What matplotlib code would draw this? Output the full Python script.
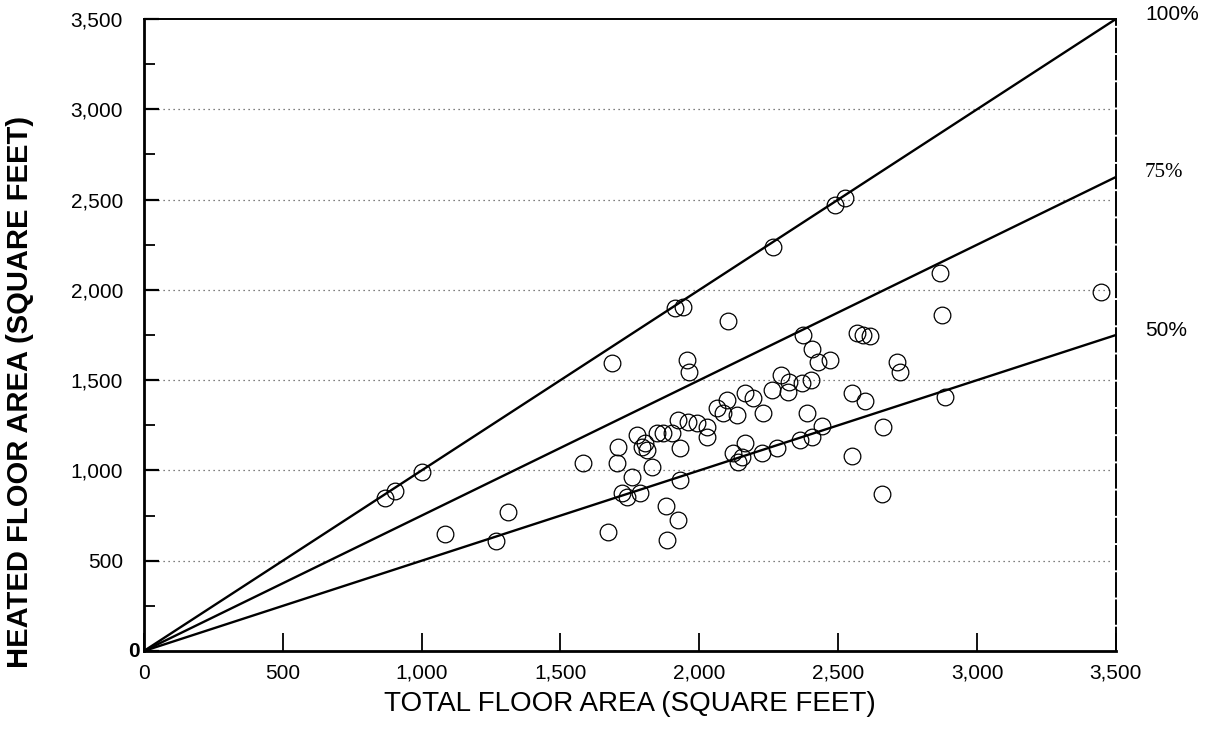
import numpy as np
import matplotlib.pyplot as plt
from matplotlib.ticker import MultipleLocator, FuncFormatter

# total floor area vs heated floor area (square feet), one circle per house
total_area = [
    868, 904, 1001, 1084, 1268, 1311, 1581, 1685, 1671, 1707, 1703, 1721, 1739,
    1757, 1775, 1786, 1793, 1804, 1811, 1829, 1847, 1869, 1880, 1883, 1901, 1912,
    1923, 1923, 1930, 1930, 1941, 1955, 1959, 1963, 1991, 2027, 2027, 2063, 2085,
    2099, 2103, 2121, 2135, 2139, 2153, 2164, 2164, 2193, 2225, 2229, 2261, 2265,
    2279, 2294, 2319, 2322, 2362, 2369, 2373, 2387, 2402, 2405, 2405, 2427, 2441,
    2470, 2488, 2524, 2550, 2550, 2567, 2589, 2596, 2614, 2657, 2661, 2711, 2722,
    2866, 2873, 2884, 3445,
]
heated_area = [
    847, 886, 991, 648, 609, 770, 1041, 1595, 659, 1130, 1041, 875, 853,
    963, 1196, 875, 1130, 1152, 1113, 1019, 1207, 1207, 803, 614, 1207, 1899,
    725, 1279, 1124, 947, 1905, 1611, 1268, 1545, 1262, 1240, 1185, 1346, 1318,
    1390, 1827, 1096, 1307, 1047, 1074, 1429, 1152, 1401, 1096, 1318, 1445, 2237,
    1124, 1528, 1434, 1490, 1168, 1484, 1750, 1318, 1500, 1672, 1185, 1600, 1246,
    1611, 2470, 2508, 1429, 1080, 1761, 1750, 1384, 1744, 869, 1240, 1600, 1545,
    2093, 1860, 1406, 1988,
]

# reference ratios of heated to total area
ratios = [1.0, 0.75, 0.5]
ratio_labels = ["100%", "75%", "50%"]
ratio_fonts = ["Liberation Sans", "Liberation Serif", "Liberation Sans"]

xmax = 3500
ymax = 3500

fig = plt.figure(figsize=(12.09, 7.31), dpi=100)
ax = fig.add_axes([0.119, 0.1094, 0.804, 0.8646])

for yv in range(500, 3001, 500):
    ax.axhline(yv, xmin=0.015, xmax=0.995, color="#555555", lw=0.9,
               linestyle=(0, (1, 3)), zorder=1)

xs = np.array([0, xmax])
for r in ratios:
    ax.plot(xs, xs * r, color="black", lw=1.7, solid_capstyle="butt", zorder=3)

ax.plot(total_area, heated_area, linestyle="none", marker="o", ms=12,
        mfc="none", mec="black", mew=0.9, zorder=4)

ax.set_xlim(0, xmax)
ax.set_ylim(0, ymax)

ax.xaxis.set_major_locator(MultipleLocator(500))
ax.yaxis.set_major_locator(MultipleLocator(500))
ax.yaxis.set_minor_locator(MultipleLocator(250))
ax.xaxis.set_major_formatter(FuncFormatter(lambda v, p: f"{int(v):,}"))
# the y zero is drawn separately, tucked in against the spine
ax.yaxis.set_major_formatter(FuncFormatter(lambda v, p: f"{int(v):,}" if v else ""))

ax.tick_params(axis="x", which="major", direction="in", length=13, width=1.3,
               pad=9, labelsize=15)
ax.tick_params(axis="y", which="major", direction="in", length=11, width=1.6,
               pad=15, labelsize=15)
ax.tick_params(axis="y", which="minor", direction="in", length=8, width=1.3)
ax.tick_params(top=False, right=False, which="both")

for lab in ax.get_xticklabels() + ax.get_yticklabels():
    lab.set_family("Liberation Sans")
ax.get_xticklabels()[0].set_fontweight("bold")

ax.annotate("0", xy=(0, 0), xytext=(-3, 0), textcoords="offset points",
            ha="right", va="center", fontsize=15, fontweight="bold",
            family="Liberation Sans", annotation_clip=False)

ax.spines["left"].set_linewidth(2.0)
ax.spines["bottom"].set_linewidth(2.0)
ax.spines["top"].set_linewidth(1.4)
ax.spines["right"].set_linewidth(1.4)
ax.spines["right"].set_linestyle((0, (12, 2)))

ax.set_xlabel("TOTAL FLOOR AREA (SQUARE FEET)", family="Liberation Sans",
              fontsize=20, labelpad=6)
ax.set_ylabel("HEATED FLOOR AREA (SQUARE FEET)", family="Liberation Sans",
              fontsize=21, fontweight="bold")
ax.yaxis.set_label_coords(-0.113, 0.41)

for r, lab, fam in zip(ratios, ratio_labels, ratio_fonts):
    yv = xmax * r
    ax.annotate(lab, xy=(xmax, yv), xytext=(21, 3), textcoords="offset points",
                ha="left", va="center", fontsize=15, family=fam,
                annotation_clip=False)

fig.savefig("out.png", dpi=100)
